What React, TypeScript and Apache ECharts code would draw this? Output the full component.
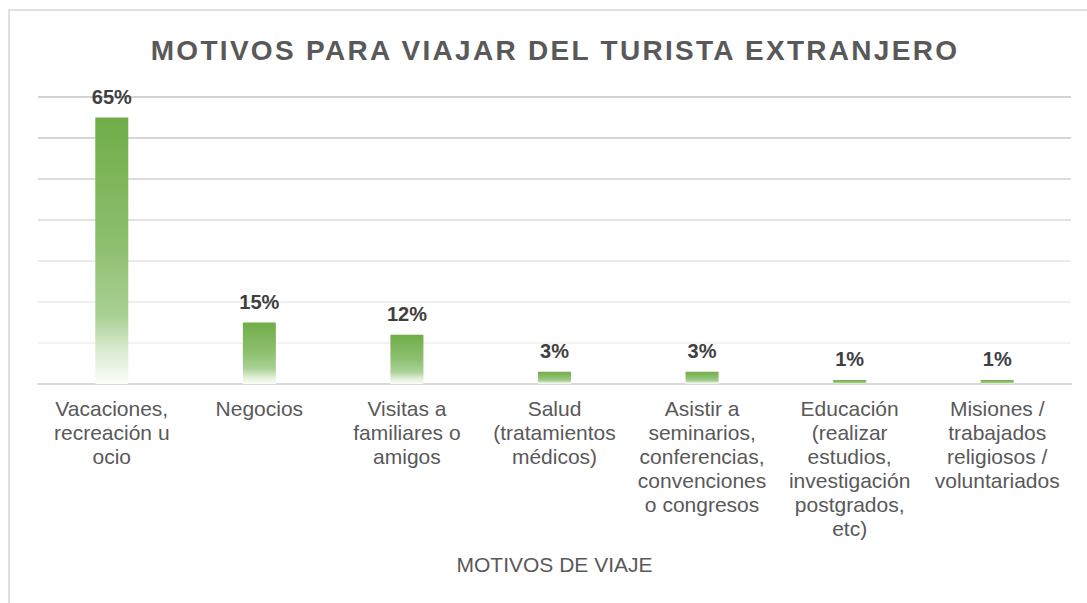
import React, { useEffect, useRef } from "react";
import * as echarts from "echarts";

const titleText = "MOTIVOS PARA VIAJAR DEL TURISTA EXTRANJERO";
const axisName = "MOTIVOS DE VIAJE";
const categories = [
  "Vacaciones,\nrecreación u\nocio",
  "Negocios",
  "Visitas a\nfamiliares o\namigos",
  "Salud\n(tratamientos\nmédicos)",
  "Asistir a\nseminarios,\nconferencias,\nconvenciones\no congresos",
  "Educación\n(realizar\nestudios,\ninvestigación\npostgrados,\netc)",
  "Misiones /\ntrabajados\nreligiosos /\nvoluntariados",
];
const values = [0.65, 0.15, 0.12, 0.03, 0.03, 0.01, 0.01];

const FONT = "'Liberation Sans', Arial, Helvetica, sans-serif";

export default function App() {
  const ref = useRef<HTMLDivElement>(null);
  useEffect(() => {
    if (!ref.current) return;
    const chart = echarts.init(ref.current, undefined, { renderer: "svg" });
    const barGradient = new echarts.graphic.LinearGradient(0, 0, 0, 1, [
      { offset: 0, color: "#70ad47" },
      { offset: 0.5, color: "#8fc071" },
      { offset: 0.75, color: "#aad196" },
      { offset: 0.88, color: "#dcecd2" },
      { offset: 1, color: "#fbfdf9" },
    ]);
    chart.setOption({
      animation: false,
      backgroundColor: "#ffffff",
      textStyle: { fontFamily: FONT },
      title: {
        text: titleText,
        left: 550,
        textAlign: "center",
        top: 31,
        textStyle: {
          fontFamily: FONT,
          fontSize: 28,
          fontWeight: "bold",
          color: "#595959",
        },
      },
      graphic: [
        {
          type: "rect",
          shape: { x: 9, y: 10, width: 1100, height: 620 },
          style: { fill: "none", stroke: "#d6d6d6", lineWidth: 1.5 },
          silent: true,
          z: -1,
        },
      ],
      grid: { left: 38, right: 16, top: 97, bottom: 219, containLabel: false },
      xAxis: {
        type: "category",
        data: categories,
        name: axisName,
        nameLocation: "middle",
        nameGap: 170,
        nameTextStyle: { fontFamily: FONT, fontSize: 21, color: "#595959" },
        axisLine: { lineStyle: { color: "#d9d9d9", width: 2 } },
        axisTick: { show: false },
        axisLabel: {
          interval: 0,
          margin: 12,
          fontFamily: FONT,
          fontSize: 21,
          lineHeight: 24,
          color: "#595959",
        },
      },
      yAxis: {
        type: "value",
        min: 0,
        max: 0.7,
        interval: 0.1,
        axisLabel: { show: false },
        axisLine: { show: false },
        axisTick: { show: false },
        splitLine: {
          lineStyle: {
            color: [
              "#d9d9d9",
              "#efefef",
              "#ebebeb",
              "#e5e5e5",
              "#d9d9d9",
              "#cfcfcf",
              "#c9c9c9",
              "#c4c4c4",
            ],
            width: 1.5,
          },
        },
      },
      series: [
        {
          type: "bar",
          data: values,
          barWidth: 33,
          itemStyle: { color: barGradient },
          label: {
            show: true,
            position: "top",
            distance: 11,
            fontFamily: FONT,
            fontSize: 20,
            fontWeight: "bold",
            color: "#404040",
            formatter: (p: any) => Math.round(p.value * 100) + "%",
          },
        },
      ],
    });
    // emulate letter spacing of the title
    const texts = ref.current.querySelectorAll("text");
    texts.forEach((t) => {
      if (t.textContent === titleText) {
        (t as SVGTextElement).style.letterSpacing = "2.3px";
      }
    });
    return () => chart.dispose();
  }, []);
  return (
    <div
      ref={ref}
      style={{ position: "fixed", left: 0, top: 0, width: 1087, height: 603 }}
    />
  );
}
